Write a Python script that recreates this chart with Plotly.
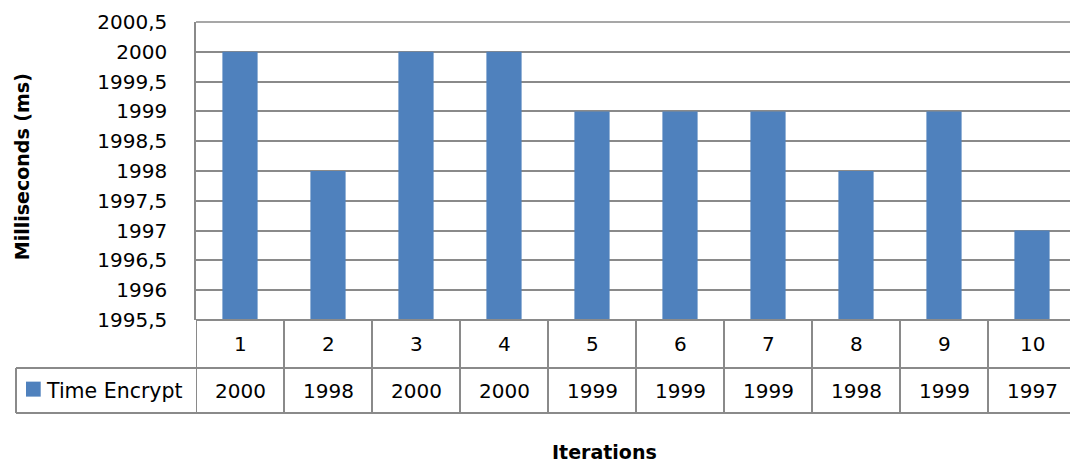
import plotly.graph_objects as go

iterations = [1, 2, 3, 4, 5, 6, 7, 8, 9, 10]
time_encrypt = [2000, 1998, 2000, 2000, 1999, 1999, 1999, 1998, 1999, 1997]
series_name = "Time Encrypt"
y_tick_vals = [1995.5, 1996, 1996.5, 1997, 1997.5, 1998, 1998.5, 1999, 1999.5, 2000, 2000.5]
y_tick_text = ["1995,5", "1996", "1996,5", "1997", "1997,5", "1998", "1998,5", "1999", "1999,5", "2000", "2000,5"]

W, H = 1070, 465
BAR = "#4F81BD"
LINE = "#8a8a8a"
FONT = "DejaVu Sans"

plot_left, plot_top, plot_bottom = 196, 21.7, 320
row1_bottom, row2_bottom = 368, 413
legend_left = 16
PW = W - plot_left
PH = plot_bottom - plot_top

def dx(x):
    return (x - plot_left) / PW

def dy(y):
    return (plot_bottom - y) / PH

fig = go.Figure()
fig.add_trace(go.Bar(x=iterations, y=time_encrypt, width=0.4, marker=dict(color=BAR, line=dict(width=0)),
                     name=series_name, showlegend=False))

cat_px = 88.0
x_end = 0.5 + PW / cat_px

fig.update_layout(
    width=W, height=H,
    margin=dict(l=plot_left, r=0, t=plot_top, b=H - plot_bottom, pad=0, autoexpand=False),
    paper_bgcolor="white", plot_bgcolor="white",
    font=dict(family=FONT, size=20, color="black"),
    xaxis=dict(range=[0.5, x_end], showticklabels=False, automargin=False,
               showgrid=False, zeroline=False, showline=False, ticks=""),
    yaxis=dict(range=[1995.5, 2000.5], automargin=False,
               tickvals=y_tick_vals, ticktext=y_tick_text, showgrid=True,
               gridcolor=LINE, gridwidth=1.5, zeroline=False, showline=True,
               linecolor=LINE, linewidth=1.5, ticks="", ticklabelstandoff=23,
               tickfont=dict(family=FONT, size=20, color="black")),
    bargap=0.6,
)

XD, YD = "x domain", "y domain"
shapes = []
shapes.append(dict(type="line", xref=XD, yref=YD, x0=0, x1=1, y0=1, y1=1,
                   line=dict(color=LINE, width=1.5), layer="below"))
shapes.append(dict(type="line", xref=XD, yref=YD, x0=0, x1=1, y0=0, y1=0,
                   line=dict(color=LINE, width=2)))
for yy in (row1_bottom, row2_bottom):
    shapes.append(dict(type="line", xref=XD, yref=YD, x0=dx(legend_left), x1=1,
                       y0=dy(yy), y1=dy(yy), line=dict(color=LINE, width=2)))
for k in iterations:
    shapes.append(dict(type="line", xref="x", yref=YD, x0=k - 0.5, x1=k - 0.5,
                       y0=0, y1=dy(row2_bottom), line=dict(color=LINE, width=2)))
shapes.append(dict(type="line", xref=XD, yref=YD, x0=dx(legend_left), x1=dx(legend_left),
                   y0=dy(row1_bottom), y1=dy(row2_bottom), line=dict(color=LINE, width=2)))
shapes.append(dict(type="rect", xref=XD, yref=YD, x0=dx(26), x1=dx(40.7),
                   y0=dy(396.7), y1=dy(381.7), fillcolor=BAR, line=dict(width=0)))

annotations = []
for k, v in zip(iterations, time_encrypt):
    annotations.append(dict(x=k, y=dy(344), xref="x", yref=YD, text=str(k), showarrow=False,
                            font=dict(family=FONT, size=20, color="black"), xanchor="center", yanchor="middle"))
    annotations.append(dict(x=k, y=dy(391), xref="x", yref=YD, text=str(v), showarrow=False,
                            font=dict(family=FONT, size=20, color="black"), xanchor="center", yanchor="middle"))
annotations.append(dict(x=dx(44), y=dy(391), xref=XD, yref=YD, text=series_name, showarrow=False,
                        font=dict(family=FONT, size=20.5, color="black"), xanchor="left", yanchor="middle"))
annotations.append(dict(x=dx(604.5), y=dy(452), xref=XD, yref=YD, text="<b>Iterations</b>",
                        showarrow=False, font=dict(family=FONT, size=19, color="black"),
                        xanchor="center", yanchor="middle"))
annotations.append(dict(x=dx(22), y=dy(167), xref=XD, yref=YD, text="<b>Milliseconds (ms)</b>",
                        showarrow=False, textangle=-90, font=dict(family=FONT, size=19, color="black"),
                        xanchor="center", yanchor="middle"))

fig.update_layout(shapes=shapes, annotations=annotations)
fig.write_html("out.html", config=dict(displayModeBar=False),
               post_script="document.body.style.margin='0';document.body.style.overflow='hidden';")
